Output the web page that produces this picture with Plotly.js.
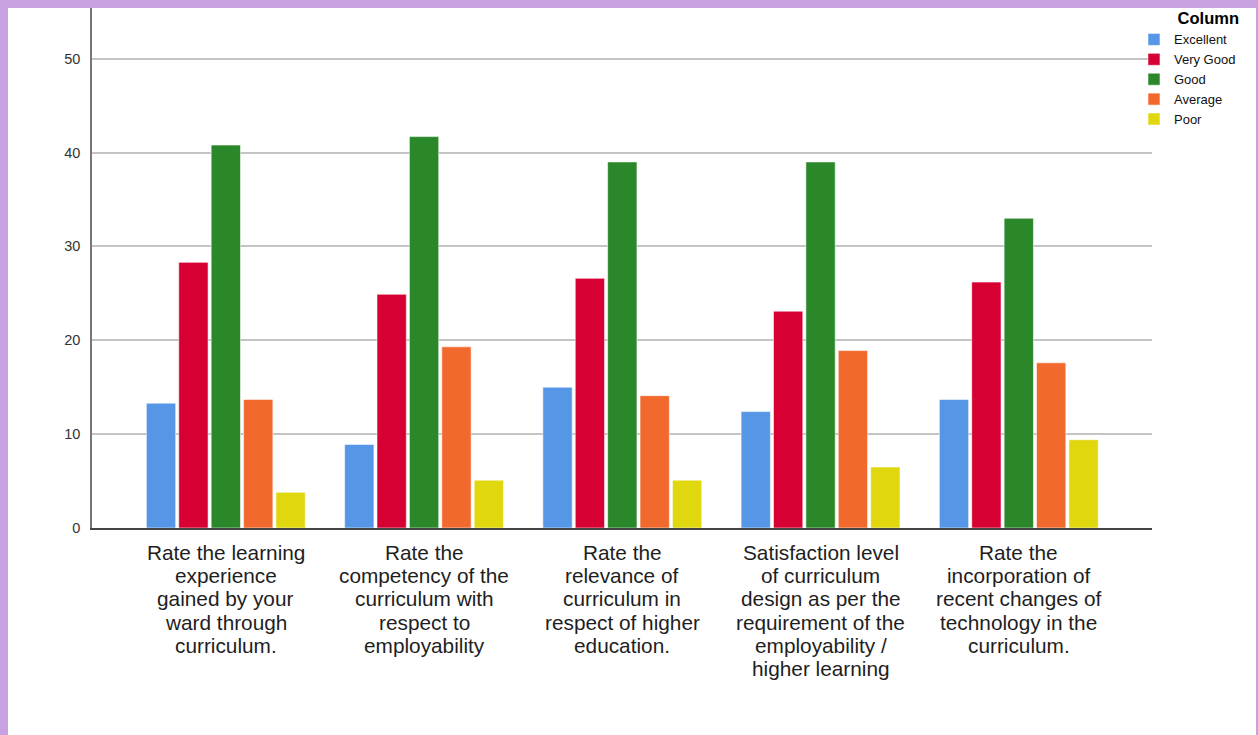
<!DOCTYPE html>
<html>
<head>
<meta charset="utf-8">
<script src="https://cdn.plot.ly/plotly-3.0.1.min.js"></script>
<style>
  html, body { margin: 0; padding: 0; background: #c8a2e0; width: 1258px; height: 735px; overflow: hidden; }
  #chart { position: absolute; left: 8px; top: 0px; width: 1248px; height: 735px; background: #ffffff; }
  #topband { position: absolute; left: 0; top: 0; width: 1258px; height: 8px; background: #c8a2e0; pointer-events: none; z-index: 5; }
</style>
</head>
<body>
<div id="chart"></div>
<div id="topband"></div>
<script>
// ---- data ----
const categories = [
  "Rate the learning experience gained by your ward through curriculum.",
  "Rate the competency of the curriculum with respect to employability",
  "Rate the relevance of curriculum in respect of higher education.",
  "Satisfaction level of curriculum design as per the requirement of the employability / higher learning",
  "Rate the incorporation of recent changes of technology in the curriculum."
];
const categoryLines = [
  ["Rate the learning", "experience", "gained by your", "ward through", "curriculum."],
  ["Rate the", "competency of the", "curriculum with", "respect to", "employability"],
  ["Rate the", "relevance of", "curriculum in", "respect of higher", "education."],
  ["Satisfaction level", "of curriculum", "design as per the", "requirement of the", "employability /", "higher learning"],
  ["Rate the", "incorporation of", "recent changes of", "technology in the", "curriculum."]
];
const seriesNames = ["Excellent", "Very Good", "Good", "Average", "Poor"];
const excellent = [13.3, 8.9, 15.0, 12.4, 13.7];
const veryGood  = [28.3, 24.9, 26.6, 23.1, 26.2];
const good      = [40.8, 41.7, 39.0, 39.0, 33.0];
const average   = [13.7, 19.3, 14.1, 18.9, 17.6];
const poor      = [3.8, 5.1, 5.1, 6.5, 9.4];
const seriesValues = [excellent, veryGood, good, average, poor];
const seriesColors = ["#5597e6", "#d70033", "#2a872a", "#f2692d", "#e1d70f"];
const yTicks = [0, 10, 20, 30, 40, 50];

// ---- traces ----
const traces = seriesNames.map((name, i) => ({
  type: "bar",
  name: name,
  x: categories,
  y: seriesValues[i],
  marker: { color: seriesColors[i], line: { color: "rgba(255,255,255,0.55)", width: 1 } },
  hoverinfo: "x+y+name"
}));

// ---- category labels as multi-line text under the axis ----
const FONT = "Liberation Sans, Arial, sans-serif";
const LINE_STEP = 23.35;
const annotations = [];
categoryLines.forEach((lines, ci) => {
  lines.forEach((line, li) => {
    annotations.push({
      x: categories[ci], xref: "x",
      y: 0, yref: "paper",
      yanchor: "middle", xanchor: "center",
      yshift: -(24 + li * LINE_STEP),
      borderpad: 0,
      text: line, showarrow: false,
      font: { family: FONT, size: 20.8, color: "#1e1e1e" }
    });
  });
});

const layout = {
  width: 1248, height: 735,
  margin: { l: 84, r: 104, t: 8, b: 207, autoexpand: false },
  paper_bgcolor: "#ffffff", plot_bgcolor: "#ffffff",
  barmode: "group", bargap: 0.183, bargroupgap: 0.095,
  showlegend: true,
  legend: {
    x: 0.983, xanchor: "left", y: 1.0096, yanchor: "top",
    font: { family: FONT, size: 13, color: "#111" },
    title: { text: "<b>Column</b>", side: "top right", font: { family: FONT, size: 16.5, color: "#000" } },
    bgcolor: "rgba(0,0,0,0)", borderwidth: 0, traceorder: "normal",
    itemclick: false, itemdoubleclick: false
  },
  xaxis: {
    type: "category", range: [-0.675, 4.672],
    showticklabels: false, ticks: "",
    showline: true, linecolor: "#444", linewidth: 1.5,
    showgrid: false, zeroline: false, fixedrange: true
  },
  yaxis: {
    range: [0, 55.4], tickvals: yTicks, ticktext: yTicks.map(String),
    ticks: "", ticklabelstandoff: 7,
    tickfont: { family: FONT, size: 14.5, color: "#333" },
    showline: true, linecolor: "#777", linewidth: 1.5,
    showgrid: true, gridcolor: "#c4c4c4", gridwidth: 1.5,
    zeroline: false, fixedrange: true
  },
  annotations: annotations,
  font: { family: FONT }
};

Plotly.newPlot("chart", traces, layout, { displayModeBar: false });
</script>
</body>
</html>
